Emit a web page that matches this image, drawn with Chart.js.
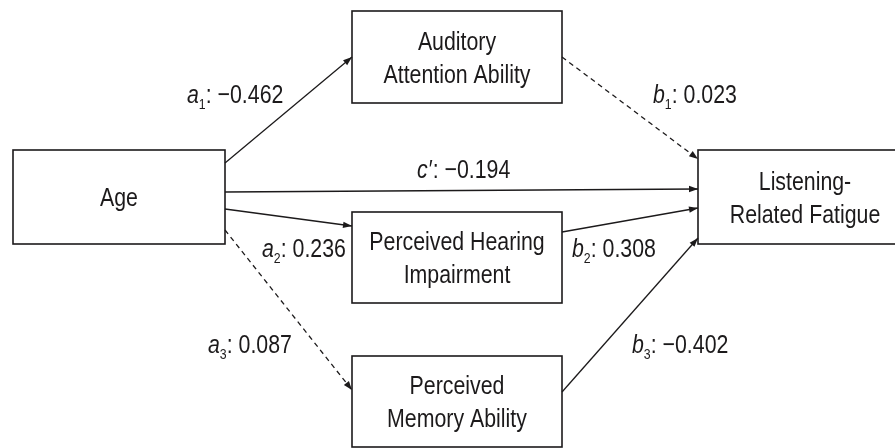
<!DOCTYPE html>
<html>
<head>
<meta charset="utf-8">
<script src="https://cdn.jsdelivr.net/npm/chart.js@4.4.1/dist/chart.umd.min.js"></script>
<style>
  html, body { margin: 0; padding: 0; background: #fff; }
  #wrap { width: 895px; height: 448px; }
</style>
</head>
<body>
<div id="wrap"><canvas id="diagram" width="895" height="448"></canvas></div>
<script>
// variables in the mediation model
var nodeNames = [
  ['Age'],
  ['Auditory', 'Attention Ability'],
  ['Perceived Hearing', 'Impairment'],
  ['Perceived', 'Memory Ability'],
  ['Listening-', 'Related Fatigue']
];

// path coefficients
var pathLetters = ['a', 'a', 'a', 'b', 'b', 'b', 'c'];
var pathSubs = ['1', '2', '3', '1', '2', '3', '\u2032'];
var pathCoefs = [-0.462, 0.236, 0.087, 0.023, 0.308, -0.402, -0.194];
var pathSignificant = [true, true, false, false, true, true, true];

// layout of the diagram, in scale units (0..895 across, 0..448 down)
var boxLayout = [
  { l: 13,  t: 150, r: 225, b: 244 },
  { l: 352, t: 11,  r: 562, b: 103 },
  { l: 352, t: 212, r: 562, b: 303 },
  { l: 352, t: 356, r: 562, b: 447 },
  { l: 698, t: 150, r: 912, b: 244 }
];
var pathLayout = [
  { x0: 225, y0: 163, x1: 352, y1: 57,  lx: 187, ly: 103 },
  { x0: 225, y0: 209, x1: 352, y1: 226, lx: 262, ly: 257 },
  { x0: 225, y0: 230, x1: 352, y1: 390, lx: 208, ly: 353 },
  { x0: 562, y0: 57,  x1: 698, y1: 159, lx: 653, ly: 103 },
  { x0: 562, y0: 232, x1: 698, y1: 208, lx: 572, ly: 257 },
  { x0: 562, y0: 392, x1: 698, y1: 238, lx: 632, ly: 353 },
  { x0: 225, y0: 192, x1: 698, y1: 189, lx: 417, ly: 178 }
];

var ink = '#1c1a1b';
var narrow = 0.82; // squeeze Liberation Sans to look like a condensed face

function fmt(v) {
  var s = Math.abs(v).toFixed(3);
  return (v < 0 ? '\u2212' : '') + s;
}

function textWidth(ctx, str, font) {
  ctx.font = font;
  return ctx.measureText(str).width * narrow;
}

function drawText(ctx, str, x, y, font) {
  ctx.save();
  ctx.font = font;
  ctx.scale(narrow, 1);
  ctx.fillText(str, x / narrow, y);
  ctx.restore();
}

var diagramPlugin = {
  id: 'diagram',
  afterDatasetsDraw: function(chart) {
    var ctx = chart.ctx;
    var xs = chart.scales.x, ys = chart.scales.y;
    ctx.save();
    ctx.fillStyle = ink;
    ctx.strokeStyle = ink;
    ctx.textBaseline = 'alphabetic';

    // boxes and their names
    var boxFont = '26px "Liberation Sans", Arial, sans-serif';
    boxLayout.forEach(function(bx, i) {
      var l = xs.getPixelForValue(bx.l), r = xs.getPixelForValue(bx.r);
      var t = ys.getPixelForValue(bx.t), b = ys.getPixelForValue(bx.b);
      ctx.lineWidth = 1.6;
      ctx.strokeRect(l, t, r - l, b - t);
      var lines = nodeNames[i];
      var cx = (l + r) / 2, cy = (t + b) / 2;
      var gap = 33;
      lines.forEach(function(line, k) {
        var base = cy + 9.3 + (k - (lines.length - 1) / 2) * gap;
        var w = textWidth(ctx, line, boxFont);
        drawText(ctx, line, cx - w / 2, base, boxFont);
      });
    });

    // arrowheads and path labels
    var labFont = '26px "Liberation Sans", Arial, sans-serif';
    var itFont = 'italic 26px "Liberation Sans", Arial, sans-serif';
    var subFont = '15px "Liberation Sans", Arial, sans-serif';
    chart.data.datasets.forEach(function(ds, i) {
      var pts = chart.getDatasetMeta(i).data;
      var p0 = pts[0], p1 = pts[1];
      var ang = Math.atan2(p1.y - p0.y, p1.x - p0.x);
      var len = 9, half = 3.2;
      ctx.beginPath();
      ctx.moveTo(p1.x, p1.y);
      ctx.lineTo(p1.x - len * Math.cos(ang) + half * Math.sin(ang), p1.y - len * Math.sin(ang) - half * Math.cos(ang));
      ctx.lineTo(p1.x - len * Math.cos(ang) - half * Math.sin(ang), p1.y - len * Math.sin(ang) + half * Math.cos(ang));
      ctx.closePath();
      ctx.fill();

      var pl = pathLayout[i];
      var x = xs.getPixelForValue(pl.lx), y = ys.getPixelForValue(pl.ly);
      drawText(ctx, pathLetters[i], x, y, itFont);
      x += textWidth(ctx, pathLetters[i], itFont);
      if (pathSubs[i] === '\u2032') {
        drawText(ctx, pathSubs[i], x + 1, y, labFont);
        x += textWidth(ctx, pathSubs[i], labFont) + 1;
      } else {
        drawText(ctx, pathSubs[i], x, y + 6, subFont);
        x += textWidth(ctx, pathSubs[i], subFont);
      }
      var rest = ': ' + fmt(pathCoefs[i]);
      drawText(ctx, rest, x, y, labFont);
    });
    ctx.restore();
  }
};

var datasets = pathLayout.map(function(pl, i) {
  return {
    label: pathLetters[i] + pathSubs[i],
    data: [{ x: pl.x0, y: pl.y0 }, { x: pl.x1, y: pl.y1 }],
    borderColor: ink,
    borderWidth: 1.3,
    borderDash: pathSignificant[i] ? [] : [5, 4],
    pointRadius: 0,
    fill: false,
    tension: 0
  };
});

new Chart(document.getElementById('diagram'), {
  type: 'line',
  data: { datasets: datasets },
  options: {
    responsive: false,
    animation: false,
    layout: { padding: 0 },
    scales: {
      x: { type: 'linear', min: 0, max: 895, display: false },
      y: { type: 'linear', min: 0, max: 448, reverse: true, display: false }
    },
    plugins: { legend: { display: false }, tooltip: { enabled: false } }
  },
  plugins: [diagramPlugin]
});
</script>
</body>
</html>
